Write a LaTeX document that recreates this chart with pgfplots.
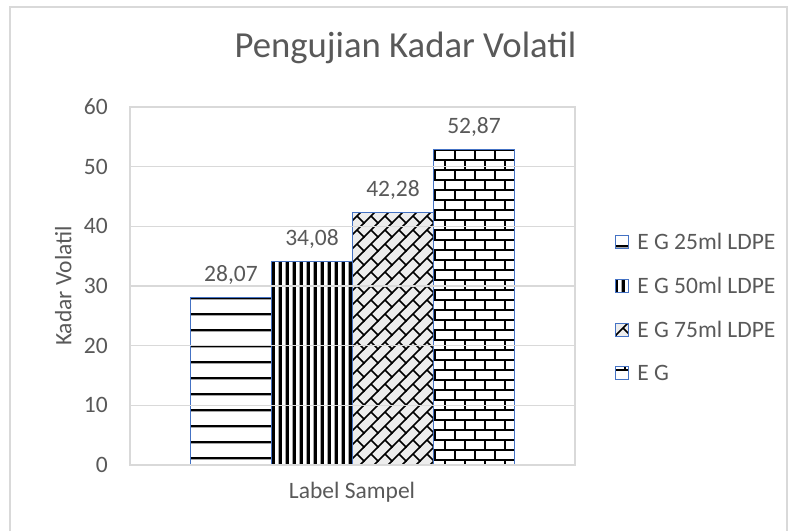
\documentclass[border=0pt]{standalone}
\usepackage{pgfplots}
\pgfplotsset{compat=1.18}
\usepackage{fontspec}
\setmainfont{Carlito}
\usetikzlibrary{patterns}
\definecolor{txt}{HTML}{595959}
\definecolor{grd}{HTML}{D9D9D9}
\definecolor{bord}{HTML}{4472C4}
\pgfdeclarepatternformonly{hl}{\pgfqpoint{0pt}{0pt}}{\pgfqpoint{16pt}{16.3pt}}{\pgfqpoint{16pt}{16.3pt}}{%
  \pgfsetlinewidth{2.3pt}\pgfpathmoveto{\pgfqpoint{-1pt}{8pt}}\pgfpathlineto{\pgfqpoint{17pt}{8pt}}\pgfusepath{stroke}}
\pgfdeclarepatternformonly{vl}{\pgfqpoint{0pt}{0pt}}{\pgfqpoint{7.3pt}{10pt}}{\pgfqpoint{7.3pt}{10pt}}{%
  \pgfsetlinewidth{3.6pt}\pgfpathmoveto{\pgfqpoint{3.65pt}{-1pt}}\pgfpathlineto{\pgfqpoint{3.65pt}{11pt}}\pgfusepath{stroke}}
\pgfdeclarepatternformonly{db}{\pgfqpoint{-1pt}{-1pt}}{\pgfqpoint{15pt}{15pt}}{\pgfqpoint{14pt}{14pt}}{%
  \pgfsetlinewidth{1.6pt}\pgfpathmoveto{\pgfqpoint{-1pt}{-1pt}}\pgfpathlineto{\pgfqpoint{15pt}{15pt}}
  \pgfpathmoveto{\pgfqpoint{7pt}{7pt}}\pgfpathlineto{\pgfqpoint{14pt}{0pt}}\pgfusepath{stroke}}
\pgfdeclarepatternformonly{br}{\pgfqpoint{-1pt}{-1pt}}{\pgfqpoint{21pt}{21pt}}{\pgfqpoint{20pt}{20pt}}{%
  \pgfsetlinewidth{2.2pt}
  \pgfpathmoveto{\pgfqpoint{-1pt}{1pt}}\pgfpathlineto{\pgfqpoint{21pt}{1pt}}
  \pgfpathmoveto{\pgfqpoint{-1pt}{11pt}}\pgfpathlineto{\pgfqpoint{21pt}{11pt}}
  \pgfpathmoveto{\pgfqpoint{5pt}{1pt}}\pgfpathlineto{\pgfqpoint{5pt}{11pt}}
  \pgfpathmoveto{\pgfqpoint{15pt}{11pt}}\pgfpathlineto{\pgfqpoint{15pt}{21pt}}
  \pgfusepath{stroke}}
\newcommand{\bodyfont}{\fontsize{23.5}{28}\selectfont}
\begin{document}
\begin{tikzpicture}[x=1pt,y=1pt]
\useasboundingbox (0,0) rectangle (791,531);
\draw[grd, line width=1.2pt] (10,0) -- (10,524) -- (787,524) -- (787,0);
\begin{axis}[
  at={(130pt,66pt)}, anchor=south west, scale only axis,
  width=445pt, height=358pt,
  ybar=0pt, bar width=81pt,
  xmin=-1, xmax=1, ymin=0, ymax=60,
  ytick={0,10,...,60}, xtick=\empty,
  ymajorgrids, major grid style={grd, line width=1.5pt},
  axis line style={grd, line width=1.5pt},
  major tick length=0pt, axis on top,
  /pgf/number format/assume math mode=true,
  /pgf/number format/use comma,
  /pgf/number format/fixed, /pgf/number format/fixed zerofill,
  /pgf/number format/precision=2,
  yticklabel={\pgfmathprintnumber[fixed,precision=0,fixed zerofill=false]{\tick}},
  y tick label style={font=\bodyfont, text=txt, anchor=east, inner sep=0pt, xshift=-22pt},
  title={Pengujian Kadar Volatil},
  title style={at={(0.619,1.1229)}, anchor=base, font=\fontsize{36.7}{44}\selectfont, text=txt},
  ylabel={Kadar Volatil},
  ylabel style={at={(-0.150,0.5)}, anchor=center, font=\bodyfont, text=txt},
  xlabel={Label Sampel},
  xlabel style={at={(0.499,-0.0922)}, anchor=base, font=\bodyfont, text=txt},
  nodes near coords,
  every node near coord/.append style={font=\bodyfont, text=txt, anchor=base, inner sep=0pt, yshift=16pt},
  legend style={at={(1.09,0.44)}, anchor=west, draw=none, fill=none, font=\bodyfont, text=txt,
    row sep=22pt, inner sep=0pt, /tikz/every odd column/.append style={column sep=6pt}},
  legend cell align=left,
  legend image code/.code={\draw[#1, line width=1pt] (0pt,-6.5pt) rectangle (13pt,6.5pt);},
]
\addplot[draw=bord, line width=1.4pt, pattern=hl] coordinates {(0,28.07)};
\addplot[draw=bord, line width=1.4pt, pattern=vl] coordinates {(0,34.08)};
\addplot[draw=bord, line width=1.4pt, fill=black!7, postaction={pattern=db}] coordinates {(0,42.28)};
\addplot[draw=bord, line width=1.4pt, pattern=br] coordinates {(0,52.87)};
\legend{E G 25ml LDPE, E G 50ml LDPE, E G 75ml LDPE, E G}
\end{axis}
\end{tikzpicture}
\end{document}
